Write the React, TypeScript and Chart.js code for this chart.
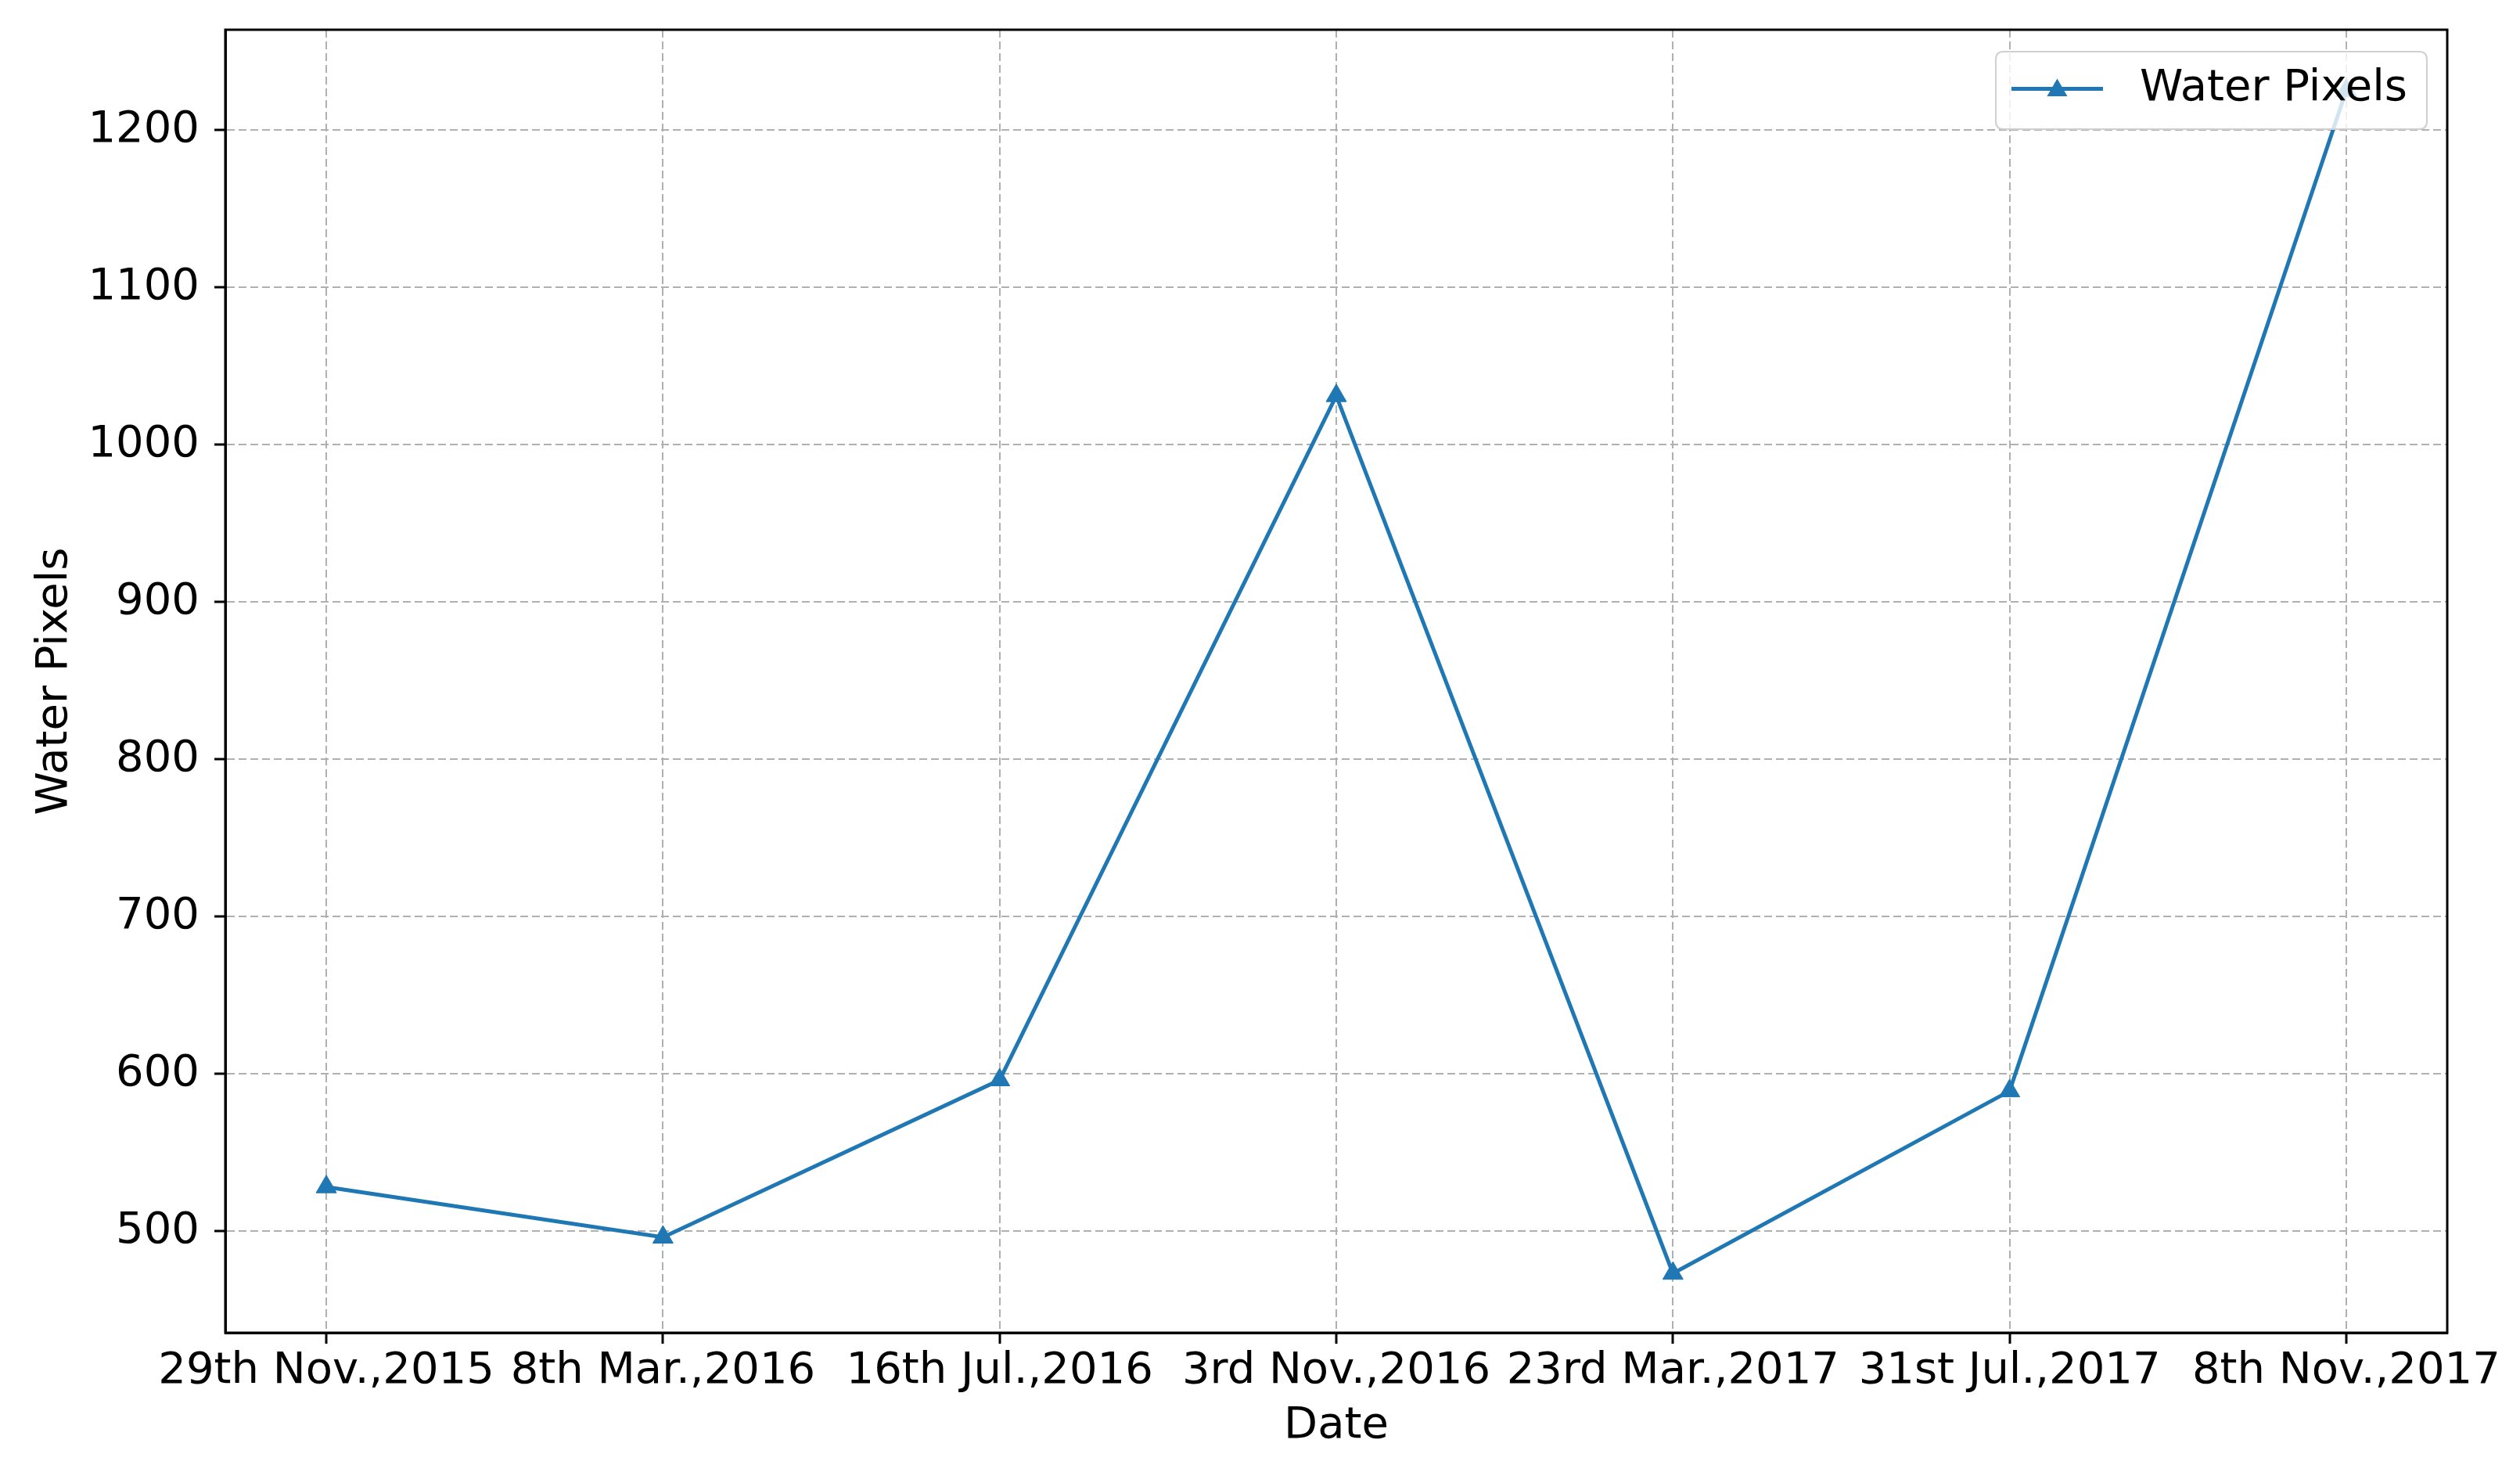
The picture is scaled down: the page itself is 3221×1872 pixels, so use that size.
import React, { useEffect, useRef } from "react";
import { Chart, registerables } from "chart.js";

Chart.register(...registerables);

const dateLabels: string[] = [
  "29th Nov.,2015",
  "8th Mar.,2016",
  "16th Jul.,2016",
  "3rd Nov.,2016",
  "23rd Mar.,2017",
  "31st Jul.,2017",
  "8th Nov.,2017",
];
const waterPixels: number[] = [528, 496, 596, 1031, 473, 589, 1225];
const yTickValues: number[] = [500, 600, 700, 800, 900, 1000, 1100, 1200];
const seriesName = "Water Pixels";
const xTitle = "Date";
const yTitle = "Water Pixels";

const FONT = "'DejaVu Sans', sans-serif";
const LINE_COLOR = "#1f77b4";
const FS = 56;
const LINE_W = 5;
const MARK_R = 15;

const framePlugin = {
  id: "frame",
  afterDraw(chart: any) {
    const { ctx, chartArea } = chart;
    ctx.save();
    ctx.strokeStyle = "#000";
    ctx.lineWidth = 3;
    ctx.strokeRect(chartArea.left, chartArea.top, chartArea.right - chartArea.left, chartArea.bottom - chartArea.top);
    ctx.restore();
  },
};

function drawTriangle(ctx: CanvasRenderingContext2D, x: number, y: number, r: number) {
  ctx.beginPath();
  let rad = 0;
  ctx.moveTo(x + Math.sin(rad) * r, y - Math.cos(rad) * r);
  rad += (2 * Math.PI) / 3;
  ctx.lineTo(x + Math.sin(rad) * r, y - Math.cos(rad) * r);
  rad += (2 * Math.PI) / 3;
  ctx.lineTo(x + Math.sin(rad) * r, y - Math.cos(rad) * r);
  ctx.closePath();
  ctx.fill();
}

const legendPlugin = {
  id: "boxLegend",
  afterDatasetsDraw(chart: any) {
    const { ctx, chartArea } = chart;
    const label = chart.data.datasets[0].label as string;
    ctx.save();
    ctx.font = `${FS}px ${FONT}`;
    const tw = ctx.measureText(label).width;
    const padL = 20, handle = 117, gap = 47, padR = 25;
    const w = padL + handle + gap + tw + padR;
    const h = 99;
    const right = chartArea.right - 26;
    const top = chartArea.top + 28;
    const left = right - w;
    const r = 10;
    ctx.beginPath();
    ctx.moveTo(left + r, top);
    ctx.lineTo(left + w - r, top);
    ctx.quadraticCurveTo(left + w, top, left + w, top + r);
    ctx.lineTo(left + w, top + h - r);
    ctx.quadraticCurveTo(left + w, top + h, left + w - r, top + h);
    ctx.lineTo(left + r, top + h);
    ctx.quadraticCurveTo(left, top + h, left, top + h - r);
    ctx.lineTo(left, top + r);
    ctx.quadraticCurveTo(left, top, left + r, top);
    ctx.closePath();
    ctx.fillStyle = "rgba(255,255,255,0.8)";
    ctx.fill();
    ctx.strokeStyle = "#d0d0d0";
    ctx.lineWidth = 2;
    ctx.stroke();
    const cy = top + h / 2 - 2;
    ctx.strokeStyle = LINE_COLOR;
    ctx.lineWidth = LINE_W;
    ctx.beginPath();
    ctx.moveTo(left + padL, cy);
    ctx.lineTo(left + padL + handle, cy);
    ctx.stroke();
    ctx.fillStyle = LINE_COLOR;
    drawTriangle(ctx, left + padL + handle / 2, cy + 2, MARK_R);
    ctx.fillStyle = "#000";
    ctx.textBaseline = "middle";
    ctx.textAlign = "left";
    ctx.fillText(label, left + padL + handle + gap, cy);
    ctx.restore();
  },
};

export default function App() {
  const canvasRef = useRef<HTMLCanvasElement | null>(null);

  useEffect(() => {
    const canvas = canvasRef.current;
    if (!canvas) return;
    const chart = new Chart(canvas, {
      type: "line",
      data: {
        datasets: [
          {
            label: seriesName,
            data: waterPixels.map((v, i) => ({ x: i, y: v })),
            borderColor: LINE_COLOR,
            backgroundColor: LINE_COLOR,
            borderWidth: LINE_W,
            pointStyle: "triangle",
            pointRadius: MARK_R,
            pointBackgroundColor: LINE_COLOR,
            pointBorderColor: LINE_COLOR,
            pointBorderWidth: 1,
            tension: 0,
            fill: false,
          },
        ],
      },
      options: {
        responsive: false,
        animation: false,
        devicePixelRatio: 1,
        layout: { padding: { top: 38, right: 93, left: 0, bottom: 0 } },
        plugins: {
          legend: { display: false },
          tooltip: { enabled: false },
        },
        scales: {
          x: {
            type: "linear",
            min: -0.3,
            max: 6.3,
            afterBuildTicks: (axis: any) => {
              axis.ticks = dateLabels.map((_, i) => ({ value: i }));
            },
            afterFit: (scale: any) => {
              scale.height = 169;
              scale.paddingLeft = 0;
              scale.paddingRight = 0;
            },
            ticks: {
              autoSkip: false,
              maxRotation: 0,
              minRotation: 0,
              padding: 2,
              color: "#000",
              font: { family: FONT, size: FS },
              callback: (v: any) => dateLabels[Number(v)] ?? "",
            },
            grid: {
              color: "#b0b0b0",
              lineWidth: 2,
              tickColor: "#000",
              tickLength: 14,
              tickWidth: 3,
            },
            border: { display: true, color: "#000", width: 3, dash: [10, 5] },
            title: {
              display: true,
              text: xTitle,
              color: "#000",
              font: { family: FONT, size: FS },
              padding: { top: 0, bottom: 16 },
            },
          },
          y: {
            type: "linear",
            min: 435.3,
            max: 1263.7,
            afterBuildTicks: (axis: any) => {
              axis.ticks = yTickValues.map((v) => ({ value: v }));
            },
            afterFit: (scale: any) => {
              scale.width = 288;
              scale.paddingTop = 0;
              scale.paddingBottom = 0;
            },
            ticks: {
              padding: 19,
              color: "#000",
              font: { family: FONT, size: FS },
              callback: (v: any) => String(v),
            },
            grid: {
              color: "#b0b0b0",
              lineWidth: 2,
              tickColor: "#000",
              tickLength: 14,
              tickWidth: 3,
            },
            border: { display: true, color: "#000", width: 3, dash: [10, 5] },
            title: {
              display: true,
              text: yTitle,
              color: "#000",
              font: { family: FONT, size: FS },
              padding: { top: 37, bottom: 0 },
            },
          },
        },
      },
      plugins: [legendPlugin, framePlugin],
    } as any);
    return () => chart.destroy();
  }, []);

  return (
    <div style={{ position: "absolute", left: 0, top: 0, width: 3221, height: 1872, background: "#fff" }}>
      <canvas ref={canvasRef} width={3221} height={1872} style={{ display: "block" }} />
    </div>
  );
}
